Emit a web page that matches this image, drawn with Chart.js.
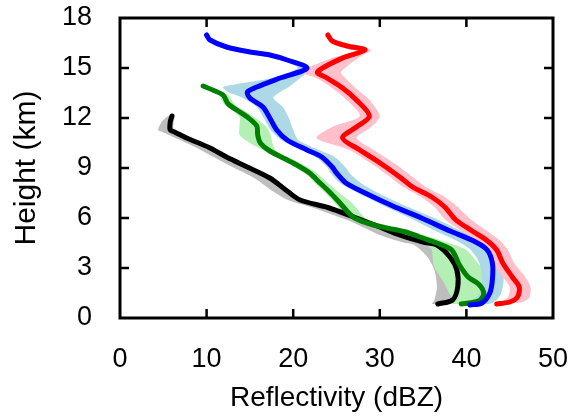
<!DOCTYPE html>
<html>
<head>
<meta charset="utf-8">
<script src="https://cdn.jsdelivr.net/npm/chart.js@4"></script>
<style>
  body { margin: 0; background: #fff; }
</style>
</head>
<body>
<canvas id="myChart" width="573" height="416"></canvas>
<script>
// Tick values for both axes
const xTicks = [0, 10, 20, 30, 40, 50];
const yTicks = [0, 3, 6, 9, 12, 15, 18];

// Black profile (height km, reflectivity dBZ, shaded range)
const blackHeight = [0.84, 1.08, 1.86, 2.88, 3.66, 4.38, 4.56, 4.98, 5.46, 5.76, 6.0, 6.63, 7.08, 7.62, 8.4, 9.06, 9.66, 10.2, 10.8, 11.16, 11.28, 11.76, 12.12];
const blackDbz = [36.7, 38.4, 39.0, 38.9, 38.1, 36.6, 35.0, 32.3, 30.0, 28.5, 27.3, 24.0, 20.8, 19.3, 17.3, 14.7, 12.3, 10.4, 7.7, 6.3, 5.8, 5.8, 6.0];
const blackLow = [36.0, 36.3, 36.6, 36.3, 35.5, 34.0, 32.5, 30.0, 28.0, 26.8, 25.6, 22.2, 19.4, 17.6, 15.5, 13.0, 10.8, 8.9, 6.4, 4.9, 4.4, 4.8, 5.6];
const blackHigh = [37.2, 38.8, 39.4, 39.3, 38.5, 37.0, 35.4, 32.8, 30.4, 28.9, 27.7, 24.4, 21.2, 19.7, 17.7, 15.1, 12.7, 10.8, 8.1, 6.7, 6.2, 6.2, 6.3];

// Green profile
const greenHeight = [0.84, 0.96, 1.08, 1.5, 2.04, 2.46, 3.18, 4.08, 4.5, 4.86, 5.16, 5.4, 5.7, 6.06, 6.9, 7.56, 8.1, 8.7, 9.3, 10.02, 10.5, 10.98, 11.52, 12.06, 12.48, 12.84, 13.38, 13.68, 13.92];
const greenDbz = [39.4, 41.0, 41.6, 42.0, 41.4, 40.2, 39.2, 38.3, 36.6, 34.6, 33.0, 30.8, 28.5, 26.9, 25.4, 24.2, 23.1, 21.9, 20.0, 17.3, 16.2, 15.9, 15.8, 14.7, 13.5, 12.5, 11.9, 10.7, 9.6];
const greenLow = [38.2, 38.5, 38.5, 38.0, 37.5, 37.0, 36.2, 36.0, 35.0, 33.5, 32.0, 29.8, 27.6, 26.2, 24.8, 23.6, 22.5, 21.3, 19.3, 16.7, 15.0, 13.8, 13.8, 13.8, 12.9, 12.0, 11.4, 10.3, 9.4];
const greenHigh = [40.5, 42.5, 43.5, 44.0, 43.5, 42.8, 41.5, 40.0, 38.0, 35.8, 34.0, 31.8, 29.6, 28.2, 26.8, 25.2, 24.0, 22.7, 20.8, 18.0, 17.6, 17.4, 16.8, 15.5, 14.2, 13.2, 12.5, 11.2, 9.9];

// Blue profile
const blueHeight = [0.78, 0.9, 1.5, 2.28, 3.3, 4.08, 4.6, 5.2, 6.0, 6.72, 7.5, 8.1, 8.7, 9.06, 9.66, 10.08, 10.68, 11.28, 12.0, 12.66, 13.2, 13.56, 13.86, 14.4, 15.0, 15.48, 15.78, 15.96, 16.26, 16.68, 16.98];
const blueDbz = [40.4, 41.8, 42.7, 43.0, 43.0, 42.4, 40.9, 38.2, 34.8, 31.5, 28.3, 26.1, 25.0, 24.5, 23.3, 21.6, 19.3, 18.1, 17.3, 16.5, 15.0, 14.7, 15.8, 18.5, 21.6, 19.3, 17.3, 15.0, 12.3, 10.4, 10.0];
const blueLow = [40.0, 40.5, 41.5, 41.8, 41.5, 40.5, 39.0, 36.5, 33.5, 30.5, 27.5, 25.4, 24.3, 23.9, 22.6, 20.9, 18.6, 17.4, 16.6, 15.8, 14.2, 12.5, 11.9, 17.5, 20.5, 18.9, 17.0, 14.8, 12.1, 10.3, 10.0];
const blueHigh = [41.0, 43.0, 44.0, 44.3, 44.0, 43.2, 42.0, 39.5, 36.3, 33.0, 29.8, 27.8, 26.5, 26.0, 24.8, 23.0, 20.6, 20.0, 19.5, 18.8, 17.7, 18.5, 19.5, 20.8, 22.0, 19.7, 17.6, 15.2, 12.5, 10.5, 10.0];

// Red profile
const redHeight = [0.84, 0.96, 1.26, 1.86, 2.46, 3.3, 4.08, 4.68, 5.28, 5.88, 6.66, 7.26, 7.86, 8.46, 9.24, 10.08, 10.8, 11.46, 12.12, 13.08, 13.8, 14.4, 14.76, 15.6, 16.08, 16.32, 16.62, 16.98];
const redDbz = [43.5, 45.0, 45.9, 46.1, 45.3, 44.2, 43.5, 42.3, 40.5, 38.8, 37.5, 36.0, 33.8, 32.3, 30.2, 27.7, 25.7, 27.3, 28.8, 27.3, 25.7, 23.9, 22.8, 25.7, 28.3, 26.2, 24.5, 24.0];
const redLow = [43.2, 44.0, 44.8, 45.0, 44.2, 43.0, 42.3, 41.0, 39.3, 37.6, 36.3, 34.8, 32.7, 31.2, 29.1, 26.5, 22.7, 24.5, 27.7, 26.2, 24.5, 22.7, 21.0, 24.5, 27.8, 26.0, 24.3, 24.0];
const redHigh = [44.0, 46.5, 47.3, 47.4, 46.8, 45.5, 44.8, 43.8, 42.2, 40.6, 39.0, 37.5, 35.3, 33.8, 31.8, 29.3, 27.3, 29.0, 30.0, 28.8, 27.2, 26.0, 25.5, 27.5, 29.0, 26.5, 24.7, 24.0];

// Turn height/value arrays into {x, y} points
function profile(h, z) {
    return h.map((v, i) => ({ x: z[i], y: v }));
}

// Closed outline: left edge going up, right edge coming back down
function band(h, lo, hi) {
    const left = h.map((v, i) => ({ x: lo[i], y: v }));
    const right = h.map((v, i) => ({ x: hi[i], y: v })).reverse();
    return left.concat(right);
}

function lineSet(data, color) {
    return {
        data: data,
        borderColor: color,
        borderWidth: 5,
        borderJoinStyle: 'round',
        borderCapStyle: 'round',
        pointRadius: 0,
        fill: false,
        tension: 0.3,
    };
}

function bandSet(data, color) {
    return {
        data: data,
        borderWidth: 0,
        borderColor: 'rgba(0,0,0,0)',
        backgroundColor: color,
        pointRadius: 0,
        fill: 'shape',
        tension: 0.25,
    };
}

// Frame around the plot with inward ticks on all four sides
const frame = {
    id: 'frame',
    afterDraw(chart) {
        const { ctx, chartArea: a, scales: { x, y } } = chart;
        ctx.save();
        ctx.strokeStyle = '#000';
        ctx.lineWidth = 3;
        ctx.strokeRect(a.left, a.top, a.right - a.left, a.bottom - a.top);
        ctx.lineWidth = 2.5;
        ctx.beginPath();
        xTicks.slice(1, -1).forEach(v => {
            const px = x.getPixelForValue(v);
            ctx.moveTo(px, a.bottom); ctx.lineTo(px, a.bottom - 9);
            ctx.moveTo(px, a.top); ctx.lineTo(px, a.top + 9);
        });
        yTicks.slice(1, -1).forEach(v => {
            const py = y.getPixelForValue(v);
            ctx.moveTo(a.left, py); ctx.lineTo(a.left + 9, py);
            ctx.moveTo(a.right, py); ctx.lineTo(a.right - 9, py);
        });
        ctx.stroke();
        ctx.restore();
    }
};

const font = { family: '"Liberation Sans", Arial, sans-serif', size: 27 };
const titleFont = { family: '"Liberation Sans", Arial, sans-serif', size: 28 };

const ctx = document.getElementById('myChart').getContext('2d');

new Chart(ctx, {
    type: 'line',
    data: {
        datasets: [
            lineSet(profile(redHeight, redDbz), '#ff0000'),
            lineSet(profile(blueHeight, blueDbz), '#0000ff'),
            lineSet(profile(greenHeight, greenDbz), '#008000'),
            lineSet(profile(blackHeight, blackDbz), '#000000'),
            bandSet(band(redHeight, redLow, redHigh), '#ffc0cb'),
            bandSet(band(blueHeight, blueLow, blueHigh), '#add8e6'),
            bandSet(band(greenHeight, greenLow, greenHigh), '#b4f0b4'),
            bandSet(band(blackHeight, blackLow, blackHigh), '#bebebe'),
        ]
    },
    options: {
        responsive: false,
        animation: false,
        layout: { padding: { top: 18, right: 20, bottom: 0, left: 0 } },
        plugins: {
            legend: { display: false },
            tooltip: { enabled: false },
            filler: { drawTime: 'beforeDatasetsDraw' },
        },
        scales: {
            x: {
                type: 'linear',
                min: 0,
                max: 50,
                afterFit: s => { s.height = 98; s.paddingLeft = 0; s.paddingRight = 0; },
                afterBuildTicks: s => { s.ticks = xTicks.map(v => ({ value: v })); },
                grid: { display: false, drawTicks: false },
                border: { display: false },
                ticks: { color: '#000', font: font, padding: 25, maxRotation: 0 },
                title: {
                    display: true,
                    text: 'Reflectivity (dBZ)',
                    color: '#000',
                    font: titleFont,
                    padding: { top: 0, bottom: 1 },
                },
            },
            y: {
                type: 'linear',
                min: 0,
                max: 18,
                afterFit: s => { s.width = 120; s.paddingTop = 0; s.paddingBottom = 0; },
                afterBuildTicks: s => { s.ticks = yTicks.map(v => ({ value: v })); },
                grid: { display: false, drawTicks: false },
                border: { display: false },
                ticks: { color: '#000', font: font, padding: 28 },
                title: {
                    display: true,
                    text: 'Height (km)',
                    color: '#000',
                    font: { family: font.family, size: 30 },
                    padding: { top: 9, bottom: 0 },
                },
            }
        }
    },
    plugins: [frame]
});
</script>
</body>
</html>
